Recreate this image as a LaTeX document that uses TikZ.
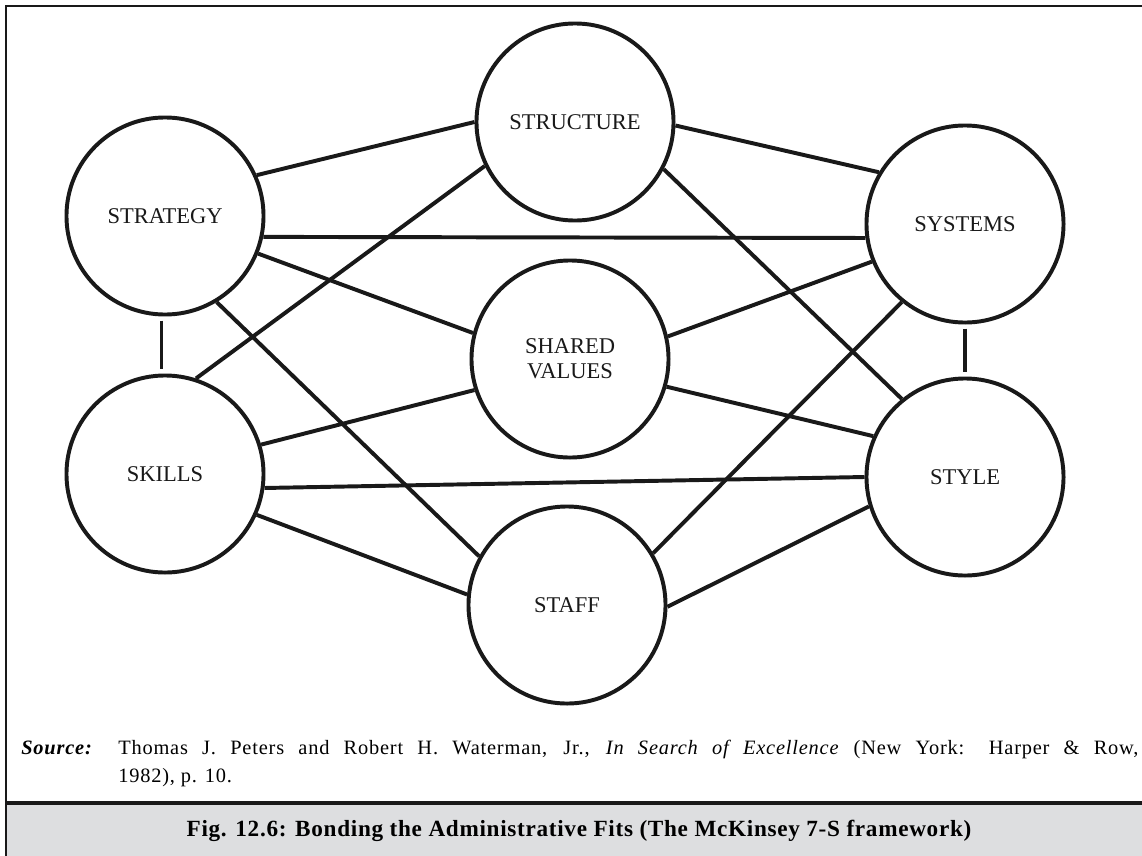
\documentclass[tikz,border=0pt]{standalone}
\usepackage{fontspec}
\setmainfont{Liberation Serif}
\newfontfamily\srcfont[LetterSpace=4]{Liberation Serif}
\newfontfamily\capfont[LetterSpace=3]{Liberation Serif}
\usepackage{xcolor}
\colorlet{inkBlack}{black!90}
\definecolor{capGray}{RGB}{221,222,224}

\tikzset{
  sbox/.style={circle, draw=inkBlack, line width=2.8pt, minimum size=4.925cm,
    inner sep=0pt, align=center, text=inkBlack, font=\fontsize{16}{18}\selectfont},
  link/.style={draw=inkBlack, line width=2.8pt},
  gapped/.style={link, shorten <=3pt, shorten >=3pt}
}

\begin{document}
\begin{tikzpicture}[x=0.025cm, y=-0.025cm]
  \clip (0,0) rectangle (1142,855);
  \fill[white] (0,0) rectangle (1142,855);

  % caption band and outer frame
  \fill[capGray] (6,803) rectangle (1150,862);
  \draw[line width=2.6pt, inkBlack] (6,803) -- (1150,803);
  \draw[line width=1.4pt, inkBlack] (6,6) rectangle (1150,862);

  % the seven S
  \node[sbox] (strategy)  at (165,216) {STRATEGY};
  \node[sbox] (structure) at (575,122) {STRUCTURE};
  \node[sbox] (systems)   at (965,224) {SYSTEMS};
  \node[sbox] (shared)    at (570,359) {SHARED\\VALUES};
  \node[sbox] (skills)    at (165,474) {SKILLS};
  \node[sbox] (style)     at (965,477) {STYLE};
  \node[sbox] (staff)     at (567,605) {STAFF};

  \draw[link] (strategy.24)  -- (structure.180);
  \draw[link] (strategy.-12) -- (systems.-172);
  \draw[link] (strategy.-22) -- (shared.165);
  \draw[link] (strategy.-59) -- (staff.151);
  \draw[gapped] (strategy.-92) -- (skills.92);

  \draw[link] (skills.72)  -- (structure.-154);
  \draw[link] (skills.17)  -- (shared.-162);
  \draw[link] (skills.-8)  -- (style.180);
  \draw[link] (skills.-24) -- (staff.174);

  \draw[link] (structure.-2)  -- (systems.149);
  \draw[link] (structure.-28) -- (style.129);
  \draw[link] (shared.13)  -- (systems.-158);
  \draw[link] (shared.-16) -- (style.156);
  \draw[link] (staff.31) -- (systems.-129);
  \draw[link] (staff.-1) -- (style.-163);
  \draw[gapped] (systems.-90) -- (style.90);

  % source note
  \node[anchor=base west, inner sep=0pt, font=\srcfont\fontsize{14.5}{17}\selectfont]
    (srclabel) at (21,754) {\bfseries\itshape Source:};
  \node[anchor=base west, inner sep=0pt, font=\srcfont\fontsize{14.5}{17}\selectfont]
    (srcline1) at (118,754)
    {\makebox[25.5cm][s]{Thomas J. Peters and Robert H. Waterman, Jr., \textit{In Search of Excellence} (New York: Harper \& Row,}};
  \node[anchor=base west, inner sep=0pt, font=\srcfont\fontsize{14.5}{17}\selectfont]
    (srcline2) at (118,782) {1982), p. 10.};

  \node[anchor=base, inner sep=0pt, font=\capfont\bfseries\fontsize{16.5}{19}\selectfont]
    (caption) at (579,836)
    {Fig. 12.6: Bonding the Administrative Fits (The McKinsey 7-S framework)};
\end{tikzpicture}
\end{document}
